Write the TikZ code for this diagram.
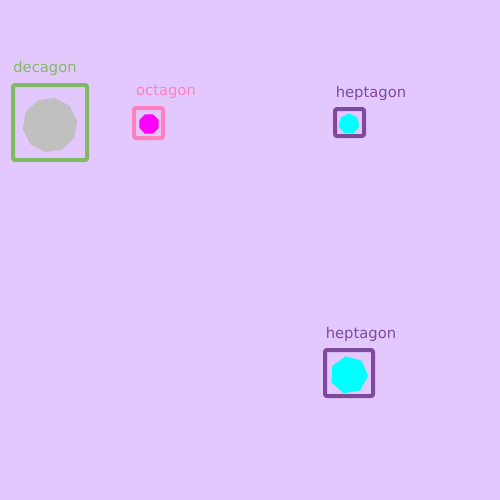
\documentclass[tikz,border=0pt]{standalone}
\usepackage{fontspec}
\setmainfont{DejaVu Sans}
\usetikzlibrary{shapes.geometric}
\definecolor{bgc}{HTML}{E3C8FD}
\definecolor{gc}{HTML}{82B965}
\definecolor{pc}{HTML}{FF80C0}
\definecolor{vc}{HTML}{7F4A9E}
\definecolor{grc}{HTML}{C0C0C0}
\definecolor{cyc}{HTML}{00FFFF}
\definecolor{mgc}{HTML}{FF00FF}
\tikzset{
  frame/.style={draw, line width=4*0.2mm, rounded corners=0.4mm},
  poly/.style={regular polygon, inner sep=0pt, draw=none},
  lbl/.style={font=\fontsize{8.4}{9}\selectfont, inner sep=0pt}
}
\begin{document}
\begin{tikzpicture}[x=0.2mm,y=-0.2mm]
\fill[bgc] (0,0) rectangle (500,500);
\useasboundingbox (0,0) rectangle (500,500);
% decagon
\draw[frame, gc] (13,85) rectangle (87,160);
\node[poly, regular polygon sides=10, minimum size=55*0.2mm, fill=grc, rotate=8] (dec) at (50,125) {};
\node[lbl, text=gc] (tdec) at (45,68) {decagon};
% octagon
\draw[frame, pc] (134,108) rectangle (163,138);
\node[poly, regular polygon sides=8, minimum size=21*0.2mm, fill=mgc] (oct) at (149,124) {};
\node[lbl, text=pc] (toct) at (166,92) {octagon};
% heptagon 1
\draw[frame, vc] (335,109) rectangle (364,136);
\node[poly, regular polygon sides=7, minimum size=21*0.2mm, fill=cyc] (hep1) at (349,124) {};
\node[lbl, text=vc] (thep1) at (371,93) {heptagon};
% heptagon 2
\draw[frame, vc] (325,350) rectangle (373,396);
\node[poly, regular polygon sides=7, minimum size=38*0.2mm, fill=cyc, rotate=10] (hep2) at (349,375) {};
\node[lbl, text=vc] (thep2) at (361,334) {heptagon};
\end{tikzpicture}
\end{document}
